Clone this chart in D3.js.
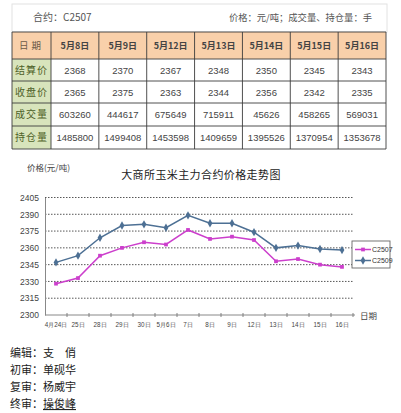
<!DOCTYPE html>
<html><head><meta charset="utf-8">
<script src="https://cdn.jsdelivr.net/npm/d3@7"></script>
<style>
body{margin:0;background:#fff;}
svg{display:block;font-family:"Noto Sans CJK SC","DejaVu Sans",sans-serif;}
</style></head><body>
<svg id="c" width="401" height="413"></svg>
<script>
// ---- data ----
const tableDates = ["5月8日","5月9日","5月12日","5月13日","5月14日","5月15日","5月16日"];
const rowLabels = ["结算价","收盘价","成交量","持仓量"];
const settle = [2368,2370,2367,2348,2350,2345,2343];
const closeP = [2365,2375,2363,2344,2356,2342,2335];
const volume = [603260,444617,675649,715911,45626,458265,569031];
const openInt = [1485800,1499408,1453598,1409659,1395526,1370954,1353678];

const chartDates = ["4月24日","25日","28日","29日","30日","5月6日","7日","8日","9日","12日","13日","14日","15日","16日"];
const c2507 = [2328,2333,2353,2360,2365,2363,2376,2368,2370,2367,2348,2350,2345,2343];
const c2509 = [2347,2353,2369,2380,2381,2378,2389,2382,2382,2374,2360,2362,2359,2358];
const yTicks = [2300,2315,2330,2345,2360,2375,2390,2405];
const seriesNames = ["C2507","C2509"];
const footer = [["编辑：","支　俏"],["初审：","单砚华"],["复审：","杨威宇"],["终审：","操俊峰"]];

const svg = d3.select("#c");

// ---- table ----
const tLeft = 12, tRight = 386, labelW = 39;
const rowsY = [32,59,81,103,126,149];
const xc = d3.scaleBand().domain(tableDates).range([tLeft+labelW, tRight]);
const rows = [settle, closeP, volume, openInt];

// title row
svg.append("rect").attr("x",tLeft).attr("y",4).attr("width",tRight-tLeft+1).attr("height",28)
  .attr("fill","#fff").attr("stroke","#e2e2e2");
svg.append("text").attr("x",33).attr("y",21).attr("font-size",10).attr("fill","#555")
  .text("合约：C2507");
svg.append("text").attr("x",372).attr("y",21).attr("font-size",9.3).attr("fill","#555")
  .attr("text-anchor","end").text("价格：元/吨；成交量、持仓量：手");

// header row
svg.append("rect").attr("x",tLeft).attr("y",rowsY[0]).attr("width",tRight-tLeft).attr("height",rowsY[1]-rowsY[0])
  .attr("fill","#f9d0aa");
// label column
svg.append("rect").attr("x",tLeft).attr("y",rowsY[1]).attr("width",labelW).attr("height",rowsY[5]-rowsY[1])
  .attr("fill","#d8e4bc");
svg.append("text").attr("x",tLeft+labelW/2).attr("y",(rowsY[0]+rowsY[1])/2+3.5).attr("text-anchor","middle")
  .attr("font-size",9.5).attr("fill","#6b5a48").attr("letter-spacing",3).text("日期");
tableDates.forEach(d=>{
  svg.append("text").attr("x",xc(d)+xc.bandwidth()/2).attr("y",(rowsY[0]+rowsY[1])/2+3.5)
    .attr("text-anchor","middle").attr("font-size",9).attr("font-weight","bold").attr("fill","#444").text(d);
});
rowLabels.forEach((lab,i)=>{
  const cy = (rowsY[i+1]+rowsY[i+2])/2+3.5;
  svg.append("text").attr("x",tLeft+labelW/2).attr("y",cy).attr("text-anchor","middle")
    .attr("font-size",10).attr("fill","#4e6128").attr("letter-spacing",1).text(lab);
  rows[i].forEach((v,j)=>{
    svg.append("text").attr("x",xc(tableDates[j])+xc.bandwidth()/2).attr("y",cy)
      .attr("text-anchor","middle").attr("font-size",9.5).attr("fill","#444")
      .attr("font-family","'Liberation Sans',Arial,sans-serif").text(v);
  });
});
// grid of table
const gl = svg.append("g").attr("stroke","#3c3c3c").attr("stroke-width",0.9);
rowsY.forEach(y=>gl.append("line").attr("x1",tLeft).attr("x2",tRight).attr("y1",y).attr("y2",y));
[tLeft, tLeft+labelW, ...tableDates.map(d=>xc(d)+xc.bandwidth())].forEach(x=>
  gl.append("line").attr("x1",x).attr("x2",x).attr("y1",rowsY[0]).attr("y2",rowsY[5]));

// ---- chart ----
const x = d3.scaleBand().domain(chartDates).range([45,353]);
const y = d3.scaleLinear().domain([2300,2405]).range([315,197.5]);
const g = svg.append("g");

g.append("text").attr("x",27).attr("y",171).attr("font-size",8.5).attr("fill","#444").text("价格(元/吨)");
g.append("text").attr("x",201).attr("y",179).attr("text-anchor","middle").attr("font-size",11)
  .attr("letter-spacing",0.4).attr("fill","#222").text("大商所玉米主力合约价格走势图");

// gridlines
yTicks.filter(t=>t>2300).forEach(t=>{
  g.append("line").attr("x1",45).attr("x2",353).attr("y1",y(t)).attr("y2",y(t))
    .attr("stroke","#444").attr("stroke-width",0.9).attr("stroke-dasharray","1.5,1.5");
});
// y axis
const ya = g.append("g").attr("transform","translate(45,0)")
  .call(d3.axisLeft(y).tickValues(yTicks).tickSize(0).tickPadding(6).tickFormat(d3.format("d")));
ya.select(".domain").attr("stroke","#888");
ya.selectAll("text").attr("font-size",8.5).attr("fill","#444").attr("font-family","'Liberation Sans',Arial,sans-serif");
// x axis
const xa = g.append("g").attr("transform","translate(0,315)")
  .call(d3.axisBottom(x).tickSize(0).tickPadding(8));
xa.select(".domain").attr("stroke","#888").attr("d","M45,0H355");
xa.selectAll("text").attr("font-size",6.3).attr("fill","#444");
chartDates.forEach(d=>{
  g.append("line").attr("x1",x(d)+x.bandwidth()).attr("x2",x(d)+x.bandwidth()).attr("y1",313).attr("y2",317)
    .attr("stroke","#777").attr("stroke-width",0.9);
});
g.append("text").attr("x",360).attr("y",319).attr("font-size",8.5).attr("fill","#444").text("日期");

const colors = ["#cc3fcc","#4d7094"];
const series = [c2507, c2509];
const line = d3.line().x((v,i)=>x(chartDates[i])+x.bandwidth()/2).y(v=>y(v));
series.forEach((s,k)=>{
  g.append("path").datum(s).attr("d",line).attr("fill","none").attr("stroke",colors[k]).attr("stroke-width",1.5);
  const sym = k===0 ? d3.symbolSquare : d3.symbolDiamond;
  g.selectAll(null).data(s).enter().append("path")
    .attr("d",d3.symbol().type(sym).size(k===0?14:20))
    .attr("transform",(v,i)=>`translate(${x(chartDates[i])+x.bandwidth()/2},${y(v)})`)
    .attr("fill",colors[k]);
});
// legend
const lg = g.append("g");
lg.append("rect").attr("x",352).attr("y",241).attr("width",38).attr("height",27)
  .attr("fill","#fff").attr("stroke","#666").attr("stroke-width",0.9);
seriesNames.forEach((n,k)=>{
  const ly = 249.5 + k*11;
  lg.append("line").attr("x1",355).attr("x2",371).attr("y1",ly).attr("y2",ly).attr("stroke",colors[k]).attr("stroke-width",1.5);
  lg.append("path").attr("d",d3.symbol().type(k===0?d3.symbolSquare:d3.symbolDiamond).size(k===0?14:20))
    .attr("transform",`translate(363,${ly})`).attr("fill",colors[k]);
  lg.append("text").attr("x",372).attr("y",ly+2.5).attr("font-size",7).attr("fill","#333")
    .attr("font-family","'Liberation Sans',Arial,sans-serif").text(n);
});

// ---- footer ----
footer.forEach((f,i)=>{
  const t = svg.append("text").attr("x",10).attr("y",357+i*17).attr("font-size",11).attr("fill","#222");
  t.append("tspan").text(f[0]);
  const s = t.append("tspan").text(f[1]);
  if(i===3) s.attr("text-decoration","underline");
});
</script>
</body></html>
